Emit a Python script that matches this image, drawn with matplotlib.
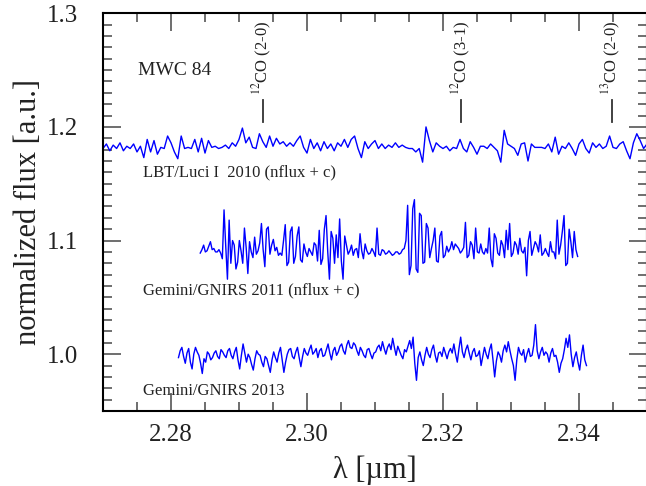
import numpy as np
import matplotlib
matplotlib.use("Agg")
import matplotlib.pyplot as plt

plt.rcParams['font.family'] = ['Liberation Serif', 'DejaVu Serif']
plt.rcParams['mathtext.fontset'] = 'stix'

# LBT/Luci I 2010 spectrum (flux already shifted by +c), 0.0005 um sampling
lbt_start, lbt_end = 2.2700, 2.3500
lbt_flux = [
    1.181, 1.185, 1.179, 1.184, 1.181, 1.186, 1.179, 1.183, 1.181, 1.185,
    1.178, 1.183, 1.173, 1.189, 1.178, 1.188, 1.176, 1.182, 1.181, 1.192,
    1.186, 1.178, 1.172, 1.192, 1.181, 1.182, 1.181, 1.189, 1.178, 1.190,
    1.177, 1.188, 1.182, 1.183, 1.181, 1.182, 1.184, 1.181, 1.186, 1.183,
    1.189, 1.199, 1.186, 1.191, 1.182, 1.181, 1.194, 1.187, 1.182, 1.192,
    1.183, 1.190, 1.185, 1.187, 1.183, 1.186, 1.183, 1.188, 1.192, 1.182,
    1.177, 1.189, 1.181, 1.186, 1.179, 1.187, 1.181, 1.185, 1.179, 1.186,
    1.183, 1.189, 1.182, 1.189, 1.192, 1.181, 1.173, 1.187, 1.181, 1.185,
    1.188, 1.181, 1.185, 1.181, 1.184, 1.182, 1.186, 1.182, 1.184, 1.182,
    1.181, 1.181, 1.178, 1.181, 1.169, 1.200, 1.188, 1.178, 1.186, 1.183,
    1.181, 1.183, 1.179, 1.182, 1.181, 1.189, 1.181, 1.178, 1.187, 1.182,
    1.176, 1.183, 1.183, 1.181, 1.185, 1.182, 1.179, 1.169, 1.197, 1.185,
    1.183, 1.181, 1.175, 1.185, 1.186, 1.170, 1.185, 1.182, 1.182, 1.182,
    1.181, 1.185, 1.178, 1.191, 1.176, 1.183, 1.181, 1.186, 1.181, 1.175,
    1.185, 1.189, 1.181, 1.177, 1.186, 1.182, 1.185, 1.181, 1.183, 1.192,
    1.182, 1.181, 1.185, 1.187, 1.179, 1.172, 1.186, 1.194, 1.188, 1.181,
    1.185,
]

# Gemini/GNIRS 2011 spectrum (flux + c), 0.00025 um sampling
gn11_start, gn11_end = 2.2843, 2.3398
gn11_flux = [
    1.089, 1.092, 1.096, 1.090, 1.091, 1.095, 1.099, 1.092, 1.093, 1.090,
    1.090, 1.092, 1.089, 1.084, 1.127, 1.095, 1.066, 1.118, 1.080, 1.100,
    1.096, 1.075, 1.081, 1.100, 1.091, 1.080, 1.111, 1.094, 1.071, 1.099,
    1.090, 1.085, 1.103, 1.088, 1.091, 1.098, 1.115, 1.092, 1.077, 1.110,
    1.112, 1.088, 1.096, 1.101, 1.091, 1.094, 1.087, 1.089, 1.087, 1.100,
    1.114, 1.078, 1.081, 1.108, 1.112, 1.080, 1.086, 1.104, 1.112, 1.083,
    1.081, 1.097, 1.090, 1.086, 1.093, 1.090, 1.087, 1.098, 1.096, 1.082,
    1.109, 1.079, 1.084, 1.110, 1.122, 1.090, 1.066, 1.108, 1.102, 1.080,
    1.105, 1.085, 1.119, 1.082, 1.066, 1.104, 1.096, 1.088, 1.091, 1.096,
    1.087, 1.092, 1.093, 1.085, 1.106, 1.091, 1.084, 1.097, 1.091, 1.088,
    1.089, 1.093, 1.090, 1.086, 1.111, 1.088, 1.087, 1.092, 1.091, 1.088,
    1.089, 1.091, 1.089, 1.087, 1.088, 1.090, 1.090, 1.088, 1.089, 1.092,
    1.093, 1.100, 1.131, 1.070, 1.078, 1.128, 1.136, 1.075, 1.072, 1.124,
    1.122, 1.080, 1.081, 1.115, 1.111, 1.085, 1.093, 1.100, 1.111, 1.082,
    1.081, 1.104, 1.108, 1.085, 1.087, 1.095, 1.090, 1.093, 1.099, 1.092,
    1.097, 1.095, 1.093, 1.089, 1.091, 1.094, 1.116, 1.085, 1.087, 1.099,
    1.096, 1.084, 1.111, 1.090, 1.089, 1.097, 1.090, 1.088, 1.093, 1.089,
    1.111, 1.084, 1.077, 1.106, 1.102, 1.089, 1.087, 1.100, 1.096, 1.085,
    1.109, 1.092, 1.115, 1.086, 1.089, 1.099, 1.096, 1.088, 1.102, 1.091,
    1.089, 1.094, 1.069, 1.100, 1.108, 1.087, 1.093, 1.099, 1.096, 1.090,
    1.105, 1.087, 1.089, 1.093, 1.089, 1.086, 1.099, 1.090, 1.090, 1.084,
    1.118, 1.088, 1.096, 1.108, 1.122, 1.078, 1.080, 1.110, 1.099, 1.085,
    1.108, 1.092, 1.086,
]

# Gemini/GNIRS 2013 spectrum, 0.00025 um sampling
gn13_start, gn13_end = 2.2811, 2.3411
gn13_flux = [
    0.997, 1.003, 1.006, 0.998, 0.992, 1.001, 1.005, 0.993, 0.987, 1.000,
    1.006, 1.002, 0.999, 0.992, 0.983, 0.996, 0.993, 1.002, 1.000, 0.995,
    0.997, 1.001, 1.003, 0.998, 0.996, 1.004, 1.002, 0.999, 0.997, 1.003,
    1.005, 0.999, 0.996, 1.002, 1.006, 0.995, 0.987, 0.999, 1.009, 1.001,
    0.993, 1.000, 0.997, 0.991, 0.986, 0.996, 1.003, 1.000, 0.999, 0.993,
    0.989, 0.998, 0.996, 0.990, 0.984, 0.995, 1.002, 0.997, 0.993, 1.001,
    1.006, 0.995, 0.984, 0.993, 1.000, 1.004, 1.005, 0.998, 0.996, 1.002,
    1.006, 0.997, 0.989, 0.998, 1.005, 1.001, 0.999, 1.004, 1.008, 1.000,
    1.002, 1.005, 0.997, 1.003, 1.005, 0.998, 0.999, 1.004, 1.009, 1.001,
    0.995, 1.003, 1.006, 0.999, 1.002, 1.007, 1.009, 1.003, 1.000, 1.008,
    1.012, 1.006, 1.005, 1.010, 1.008, 1.003, 0.999, 1.006, 1.003, 0.999,
    0.997, 1.004, 1.005, 1.000, 0.996, 1.001, 1.002, 1.006, 1.008, 1.003,
    1.011, 1.005, 1.000, 1.006, 1.009, 1.004, 1.014, 1.006, 0.999, 1.007,
    1.003, 0.999, 0.996, 1.004, 1.002, 1.007, 1.012, 1.005, 1.015, 0.992,
    0.977, 0.997, 1.002, 0.995, 0.990, 0.999, 1.006, 1.000, 0.997, 1.004,
    1.008, 0.999, 0.993, 1.001, 1.002, 0.998, 1.006, 1.001, 0.996, 1.002,
    1.005, 1.001, 1.009, 1.000, 0.993, 1.005, 1.015, 1.002, 0.997, 1.004,
    1.008, 1.001, 0.995, 1.002, 1.005, 0.998, 0.999, 1.003, 0.990, 0.998,
    1.006, 1.000, 0.996, 1.004, 1.009, 0.995, 0.980, 0.994, 1.002, 0.999,
    0.993, 1.003, 1.008, 1.002, 1.011, 1.003, 0.996, 0.990, 0.977, 0.995,
    1.006, 1.001, 0.999, 1.004, 0.993, 1.000, 1.005, 0.998, 0.999, 1.008,
    1.026, 1.003, 0.996, 1.002, 1.006, 0.999, 1.002, 1.000, 0.993, 1.001,
    1.005, 0.998, 0.999, 0.993, 0.984, 0.992, 0.996, 1.004, 1.014, 1.006,
    1.017, 1.000, 0.989, 0.997, 1.002, 0.993, 0.986, 0.999, 1.008, 0.995,
    0.990,
]

# CO bandhead positions and their labels
co_wave = [2.2935, 2.3227, 2.3448]
co_labels = [r'$^{12}$CO (2-0)', r'$^{12}$CO (3-1)', r'$^{13}$CO (2-0)']

spectra = [
    (lbt_start, lbt_end, lbt_flux),
    (gn11_start, gn11_end, gn11_flux),
    (gn13_start, gn13_end, gn13_flux),
]

fig = plt.figure(figsize=(6.46, 4.86), dpi=100)
ax = fig.add_axes([103 / 646, 1 - 411 / 486, 544 / 646, (411 - 13.3) / 486])

for start, end, flux in spectra:
    wave = np.linspace(start, end, len(flux))
    ax.plot(wave, flux, color='#0000ff', lw=1.0)

# bandhead markers
for w, lab in zip(co_wave, co_labels):
    ax.plot([w, w], [1.2042, 1.2236], color='#333333', lw=1.3)
    ax.text(w, 1.228, lab, rotation=90, ha='center', va='bottom',
            fontsize=12, color='#222222')

ax.text(2.2752, 1.250, 'MWC 84', fontsize=14, va='center', color='#222222')
ax.text(2.2759, 1.160, 'LBT/Luci I  2010 (nflux + c)', fontsize=12,
        va='center', color='#222222')
ax.text(2.2759, 1.056, 'Gemini/GNIRS 2011 (nflux + c)', fontsize=12,
        va='center', color='#222222')
ax.text(2.2759, 0.968, 'Gemini/GNIRS 2013', fontsize=12,
        va='center', color='#222222')

ax.set_xlim(2.27, 2.35)
ax.set_ylim(0.95, 1.3)
ax.set_xticks([2.28, 2.30, 2.32, 2.34])
ax.set_xticklabels(['2.28', '2.30', '2.32', '2.34'])
ax.set_xticks(np.arange(2.27, 2.3501, 0.005), minor=True)
ax.set_yticks([1.0, 1.1, 1.2, 1.3])
ax.set_yticklabels(['1.0', '1.1', '1.2', '1.3'])
ax.set_yticks(np.arange(0.95, 1.3001, 0.01), minor=True)

ax.tick_params(which='both', direction='in', top=True, right=True,
               color='#555555', width=1.2, labelcolor='#222222')
ax.tick_params(which='major', length=13, labelsize=18)
ax.tick_params(which='minor', length=6.5)
ax.tick_params(axis='y', which='major', pad=18)
ax.tick_params(axis='x', which='major', pad=9)
for s in ax.spines.values():
    s.set_linewidth(1.5)
    s.set_color('black')

ax.set_xlabel('λ [µm]', fontsize=22, color='#222222', labelpad=7)
ax.set_ylabel('normalized flux [a.u.]', fontsize=22, color='#222222', labelpad=3)

fig.savefig('out.png', dpi=100)
